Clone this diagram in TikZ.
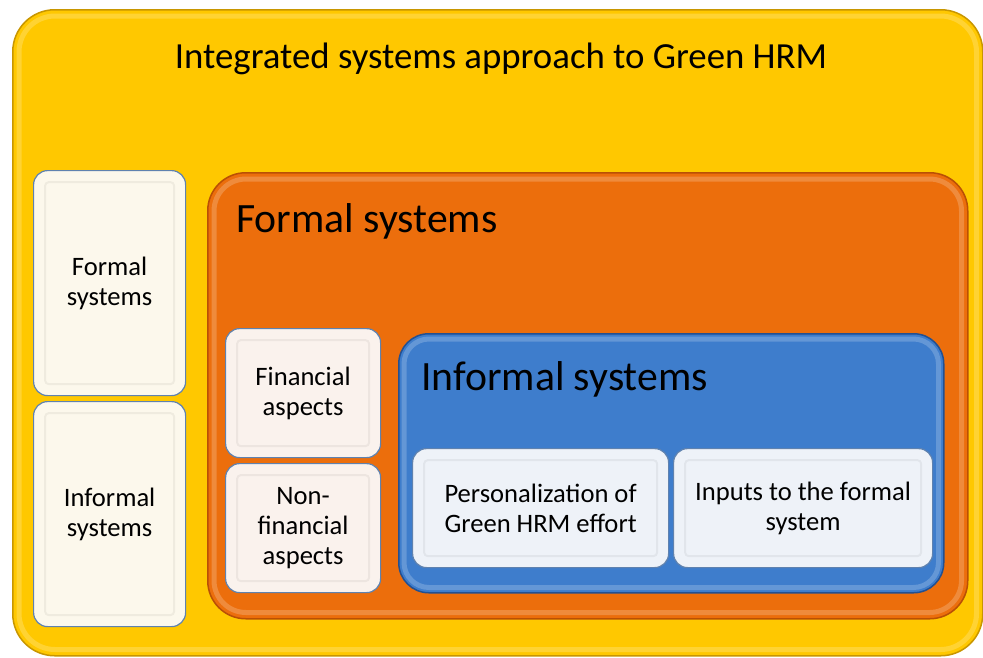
\documentclass[tikz,border=0pt]{standalone}
\usepackage{fontspec}
\setmainfont{Carlito}
\usetikzlibrary{positioning}
\definecolor{yel}{RGB}{255,200,0}
\definecolor{yeldark}{RGB}{200,150,0}
\definecolor{org}{RGB}{236,110,12}
\definecolor{orgdark}{RGB}{185,80,5}
\definecolor{blu}{RGB}{62,125,204}
\definecolor{bludark}{RGB}{35,80,145}
\definecolor{cream}{RGB}{252,248,236}
\definecolor{pinkish}{RGB}{250,242,237}
\definecolor{pale}{RGB}{238,242,248}
\definecolor{edgeblue}{RGB}{95,130,175}
\tikzset{
  panel/.style={draw=#1, line width=1.5pt, anchor=north west, inner sep=0pt},
  leaf/.style={draw=edgeblue, line width=1.2pt, rounded corners=14pt, anchor=north west,
    inner sep=2pt, align=center, font=\fontsize{26.6}{30}\selectfont},
  ptitle/.style={inner sep=0pt, font=\fontsize{41.7}{48}\selectfont},
  rim/.style={draw=white, draw opacity=0.2, line width=5pt},
  innerbevel/.style={draw=black, draw opacity=0.05, line width=2pt, rounded corners=4pt},
}
\begin{document}
\begin{tikzpicture}[x=1pt,y=-1pt]
\useasboundingbox (0,0) rectangle (983,657);
% outer yellow
\node[panel=yeldark, fill=yel, rounded corners=42pt, minimum width=970pt, minimum height=646pt] (outer) at (12,9) {};
\draw[rim, rounded corners=36pt] ([shift={(7,7)}]outer.north west) rectangle ([shift={(-7,-7)}]outer.south east);
\node[inner sep=0pt, font=\fontsize{36.8}{44}\selectfont] (title) at (501,59) {Integrated systems approach to Green HRM};
% left column
\node[leaf, fill=cream, minimum width=152pt, minimum height=225pt] (lformal) at (33,170) {Formal\\systems};
\node[leaf, fill=cream, minimum width=152pt, minimum height=225pt] (linformal) at (33,401) {Informal\\systems};
% orange
\node[panel=orgdark, fill=org, rounded corners=38pt, minimum width=760pt, minimum height=446pt] (formal) at (207,172) {};
\draw[rim, rounded corners=32pt] ([shift={(7,7)}]formal.north west) rectangle ([shift={(-7,-7)}]formal.south east);
\node[ptitle, anchor=west] (ftitle) at (236,221) {Formal systems};
\node[leaf, fill=pinkish, minimum width=155pt, minimum height=129pt] (fin) at (225,328) {Financial\\aspects};
\node[leaf, fill=pinkish, minimum width=155pt, minimum height=129pt] (nonfin) at (225,463) {Non-\\financial\\aspects};
% blue
\node[panel=bludark, fill=blu, rounded corners=30pt, minimum width=545pt, minimum height=259pt] (informal) at (398,333) {};
\draw[rim, rounded corners=25pt] ([shift={(6,6)}]informal.north west) rectangle ([shift={(-6,-6)}]informal.south east);
\node[ptitle, anchor=west] (ititle) at (421,379) {Informal systems};
\node[leaf, fill=pale, minimum width=256pt, minimum height=119pt] (pers) at (412,448) {Personalization of\\Green HRM effort};
\node[leaf, fill=pale, minimum width=259pt, minimum height=119pt] (inputs) at (673,448) {Inputs to the formal\\system};
% subtle inner bevels on leaves
\foreach \n in {lformal,linformal,fin,nonfin,pers,inputs}{
  \draw[innerbevel] ([shift={(12,12)}]\n.north west) rectangle ([shift={(-12,-12)}]\n.south east);
}
\end{tikzpicture}
\end{document}
